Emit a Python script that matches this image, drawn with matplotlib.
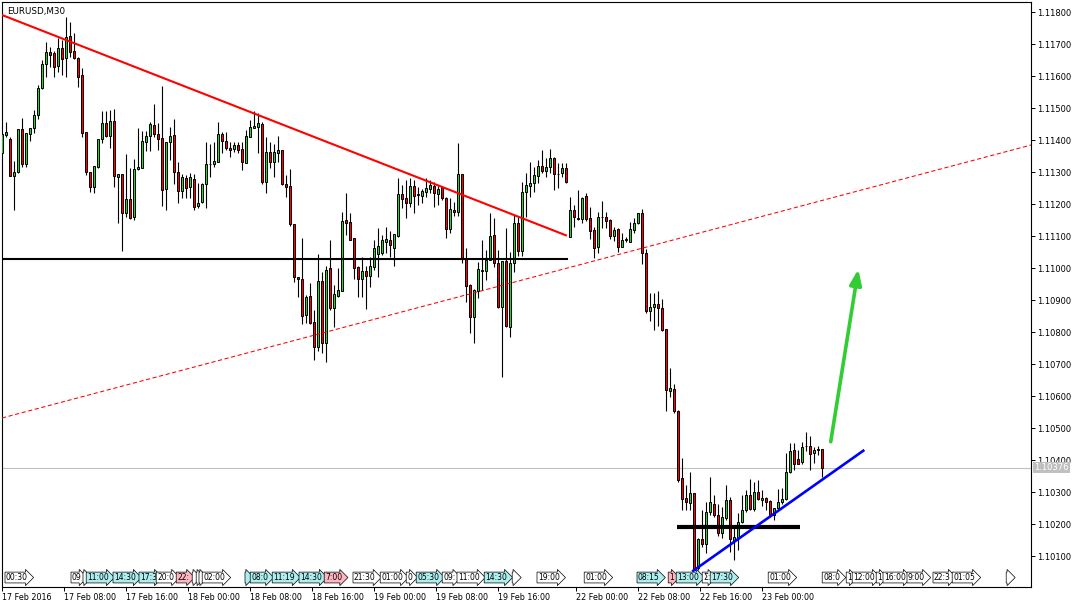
import matplotlib
matplotlib.use("Agg")
import matplotlib.pyplot as plt
import numpy as np

# EURUSD M30 candles (bar 0 = 17 Feb 2016 00:00)
opens = [1.11361, 1.11416, 1.11404, 1.11289, 1.11300, 1.11435, 1.11326, 1.11419, 1.11437, 1.11478,
         1.11562, 1.11639, 1.11677, 1.11672, 1.11633, 1.11687, 1.11656, 1.11726, 1.11680, 1.11656,
         1.11604, 1.11425, 1.11300, 1.11255, 1.11318, 1.11403, 1.11453, 1.11414, 1.11460, 1.11286,
         1.11294, 1.11174, 1.11217, 1.11161, 1.11309, 1.11314, 1.11394, 1.11414, 1.11448, 1.11419,
         1.11406, 1.11247, 1.11394, 1.11417, 1.11300, 1.11243, 1.11282, 1.11255, 1.11278, 1.11196,
         1.11208, 1.11262, 1.11325, 1.11325, 1.11333, 1.11420, 1.11399, 1.11375, 1.11372, 1.11384,
         1.11373, 1.11330, 1.11411, 1.11440, 1.11443, 1.11450, 1.11271, 1.11362, 1.11333, 1.11361,
         1.11370, 1.11265, 1.11257, 1.11138, 1.10974, 1.10966, 1.10854, 1.10913, 1.10831, 1.10755,
         1.10960, 1.10768, 1.11000, 1.10875, 1.10914, 1.10930, 1.11151, 1.11146, 1.11096, 1.11005,
         1.10966, 1.10992, 1.10977, 1.11005, 1.11045, 1.11049, 1.11081, 1.11088, 1.11062, 1.11101,
         1.11232, 1.11219, 1.11205, 1.11257, 1.11231, 1.11226, 1.11239, 1.11248, 1.11257, 1.11231,
         1.11253, 1.11219, 1.11122, 1.11182, 1.11175, 1.11295, 1.11031, 1.10948, 1.10847, 1.10930,
         1.10992, 1.10993, 1.11026, 1.11104, 1.11016, 1.10878, 1.11023, 1.10818, 1.11016, 1.11143,
         1.11055, 1.11240, 1.11258, 1.11266, 1.11290, 1.11320, 1.11305, 1.11316, 1.11344, 1.11295,
         1.11297, 1.11312, 1.11097, 1.11182, 1.11158, 1.11154, 1.11226, 1.11156, 1.11120, 1.11068,
         1.11159, 1.11159, 1.11151, 1.11102, 1.11122, 1.11068, 1.11089, 1.11083, 1.11120, 1.11141,
         1.11172, 1.11047, 1.10868, 1.10878, 1.10888, 1.10875, 1.10809, 1.10618, 1.10622, 1.10555,
         1.10344, 1.10283, 1.10268, 1.10297, 1.10062, 1.10153, 1.10138, 1.10237, 1.10265, 1.10229,
         1.10172, 1.10219, 1.10276, 1.10149, 1.10156, 1.10208, 1.10245, 1.10291, 1.10247, 1.10302,
         1.10276, 1.10281, 1.10273, 1.10229, 1.10250, 1.10269, 1.10278, 1.10364, 1.10432, 1.10403,
         1.10394, 1.10446, 1.10446, 1.10422, 1.10434, 1.10434]
highs = [1.11420, 1.11458, 1.11411, 1.11335, 1.11435, 1.11469, 1.11422, 1.11437, 1.11495, 1.11573,
         1.11651, 1.11708, 1.11692, 1.11680, 1.11719, 1.11713, 1.11786, 1.11770, 1.11734, 1.11661,
         1.11625, 1.11425, 1.11300, 1.11320, 1.11404, 1.11492, 1.11492, 1.11495, 1.11497, 1.11295,
         1.11294, 1.11357, 1.11312, 1.11341, 1.11439, 1.11429, 1.11429, 1.11458, 1.11513, 1.11453,
         1.11570, 1.11396, 1.11443, 1.11466, 1.11333, 1.11295, 1.11292, 1.11297, 1.11295, 1.11268,
         1.11268, 1.11394, 1.11390, 1.11394, 1.11457, 1.11427, 1.11427, 1.11395, 1.11395, 1.11395,
         1.11395, 1.11432, 1.11463, 1.11493, 1.11484, 1.11458, 1.11411, 1.11396, 1.11390, 1.11413,
         1.11370, 1.11292, 1.11309, 1.11138, 1.10974, 1.11094, 1.10917, 1.10953, 1.10870, 1.11044,
         1.10989, 1.11007, 1.11088, 1.10948, 1.11000, 1.11177, 1.11234, 1.11174, 1.11096, 1.11007,
         1.11034, 1.11007, 1.11036, 1.11088, 1.11125, 1.11104, 1.11130, 1.11117, 1.11106, 1.11281,
         1.11260, 1.11276, 1.11281, 1.11276, 1.11253, 1.11247, 1.11281, 1.11276, 1.11271, 1.11257,
         1.11257, 1.11224, 1.11219, 1.11208, 1.11391, 1.11295, 1.11062, 1.10951, 1.10934, 1.11021,
         1.11088, 1.11057, 1.11172, 1.11156, 1.11057, 1.11023, 1.11125, 1.11052, 1.11167, 1.11161,
         1.11271, 1.11297, 1.11333, 1.11318, 1.11338, 1.11370, 1.11344, 1.11372, 1.11349, 1.11328,
         1.11328, 1.11328, 1.11224, 1.11198, 1.11245, 1.11224, 1.11234, 1.11193, 1.11128, 1.11177,
         1.11210, 1.11177, 1.11153, 1.11128, 1.11125, 1.11111, 1.11099, 1.11146, 1.11156, 1.11172,
         1.11184, 1.11060, 1.10922, 1.10922, 1.10929, 1.10903, 1.10809, 1.10690, 1.10638, 1.10557,
         1.10406, 1.10323, 1.10364, 1.10297, 1.10156, 1.10245, 1.10271, 1.10349, 1.10291, 1.10265,
         1.10255, 1.10323, 1.10286, 1.10193, 1.10234, 1.10291, 1.10307, 1.10341, 1.10333, 1.10338,
         1.10307, 1.10284, 1.10276, 1.10250, 1.10309, 1.10312, 1.10422, 1.10455, 1.10455, 1.10432,
         1.10458, 1.10487, 1.10476, 1.10443, 1.10445, 1.10434]
lows = [1.11361, 1.11411, 1.11289, 1.11182, 1.11297, 1.11318, 1.11318, 1.11399, 1.11424, 1.11466,
        1.11559, 1.11597, 1.11628, 1.11599, 1.11614, 1.11604, 1.11599, 1.11660, 1.11653, 1.11568,
        1.11411, 1.11292, 1.11239, 1.11234, 1.11312, 1.11392, 1.11411, 1.11375, 1.11255, 1.11142,
        1.11055, 1.11161, 1.11154, 1.11151, 1.11306, 1.11314, 1.11366, 1.11367, 1.11411, 1.11370,
        1.11195, 1.11182, 1.11338, 1.11263, 1.11205, 1.11219, 1.11219, 1.11219, 1.11182, 1.11189,
        1.11205, 1.11189, 1.11286, 1.11318, 1.11333, 1.11361, 1.11370, 1.11349, 1.11364, 1.11359,
        1.11307, 1.11330, 1.11411, 1.11440, 1.11359, 1.11265, 1.11236, 1.11315, 1.11286, 1.11333,
        1.11260, 1.11222, 1.11132, 1.10958, 1.10909, 1.10826, 1.10828, 1.10826, 1.10713, 1.10743,
        1.10734, 1.10708, 1.10870, 1.10818, 1.10911, 1.10930, 1.11104, 1.11088, 1.10966, 1.10909,
        1.10909, 1.10872, 1.10943, 1.10995, 1.10972, 1.11042, 1.11047, 1.11036, 1.11007, 1.11097,
        1.11190, 1.11156, 1.11193, 1.11172, 1.11198, 1.11203, 1.11224, 1.11234, 1.11193, 1.11198,
        1.11214, 1.11094, 1.11109, 1.11163, 1.11163, 1.11016, 1.10896, 1.10797, 1.10768, 1.10906,
        1.10932, 1.10963, 1.11026, 1.11005, 1.10875, 1.10661, 1.10816, 1.10786, 1.10990, 1.11038,
        1.11038, 1.11161, 1.11224, 1.11240, 1.11266, 1.11297, 1.11284, 1.11297, 1.11245, 1.11250,
        1.11286, 1.11266, 1.11097, 1.11130, 1.11151, 1.11143, 1.11149, 1.11092, 1.11033, 1.11047,
        1.11125, 1.11125, 1.11091, 1.11086, 1.11052, 1.11066, 1.11083, 1.11083, 1.11109, 1.11138,
        1.11013, 1.10861, 1.10836, 1.10807, 1.10821, 1.10804, 1.10555, 1.10599, 1.10547, 1.10333,
        1.10245, 1.10245, 1.10245, 1.10057, 1.10057, 1.10130, 1.10109, 1.10229, 1.10224, 1.10163,
        1.10156, 1.10213, 1.10114, 1.10088, 1.10120, 1.10205, 1.10239, 1.10245, 1.10243, 1.10276,
        1.10257, 1.10245, 1.10224, 1.10213, 1.10245, 1.10265, 1.10276, 1.10361, 1.10370, 1.10388,
        1.10388, 1.10430, 1.10370, 1.10393, 1.10417, 1.10349]
closes = [1.11420, 1.11427, 1.11289, 1.11300, 1.11435, 1.11326, 1.11422, 1.11437, 1.11478, 1.11562,
          1.11637, 1.11677, 1.11667, 1.11630, 1.11687, 1.11653, 1.11724, 1.11677, 1.11656, 1.11599,
          1.11424, 1.11302, 1.11255, 1.11320, 1.11404, 1.11453, 1.11414, 1.11460, 1.11289, 1.11295,
          1.11174, 1.11217, 1.11158, 1.11310, 1.11317, 1.11398, 1.11413, 1.11451, 1.11419, 1.11403,
          1.11245, 1.11396, 1.11413, 1.11300, 1.11243, 1.11284, 1.11250, 1.11284, 1.11193, 1.11203,
          1.11265, 1.11325, 1.11326, 1.11335, 1.11420, 1.11399, 1.11377, 1.11370, 1.11384, 1.11370,
          1.11333, 1.11412, 1.11443, 1.11445, 1.11453, 1.11271, 1.11362, 1.11333, 1.11362, 1.11370,
          1.11265, 1.11253, 1.11140, 1.10972, 1.10966, 1.10852, 1.10911, 1.10830, 1.10755, 1.10960,
          1.10768, 1.10995, 1.10877, 1.10920, 1.10932, 1.11148, 1.11143, 1.11088, 1.11002, 1.10966,
          1.10992, 1.10977, 1.11007, 1.11062, 1.11070, 1.11088, 1.11092, 1.11073, 1.11106, 1.11232,
          1.11217, 1.11205, 1.11257, 1.11226, 1.11230, 1.11243, 1.11250, 1.11260, 1.11234, 1.11248,
          1.11219, 1.11122, 1.11184, 1.11175, 1.11295, 1.11031, 1.10945, 1.10847, 1.10932, 1.10997,
          1.10994, 1.11026, 1.11101, 1.11016, 1.10878, 1.11023, 1.10821, 1.11018, 1.11143, 1.11055,
          1.11240, 1.11260, 1.11268, 1.11292, 1.11320, 1.11305, 1.11316, 1.11344, 1.11295, 1.11294,
          1.11312, 1.11271, 1.11182, 1.11159, 1.11154, 1.11219, 1.11154, 1.11118, 1.11064, 1.11159,
          1.11160, 1.11149, 1.11102, 1.11120, 1.11068, 1.11088, 1.11092, 1.11122, 1.11141, 1.11172,
          1.11047, 1.10868, 1.10878, 1.10888, 1.10875, 1.10807, 1.10620, 1.10626, 1.10555, 1.10338,
          1.10279, 1.10271, 1.10297, 1.10057, 1.10153, 1.10138, 1.10239, 1.10269, 1.10229, 1.10172,
          1.10222, 1.10276, 1.10153, 1.10159, 1.10208, 1.10245, 1.10291, 1.10247, 1.10302, 1.10278,
          1.10283, 1.10271, 1.10229, 1.10250, 1.10271, 1.10279, 1.10364, 1.10430, 1.10390, 1.10390,
          1.10441, 1.10444, 1.10419, 1.10432, 1.10433, 1.10376]

# bar positions of the time axis labels
date_pos = [0, 15.5, 31, 46.5, 62, 77.5, 93, 108.5, 124, 143.5, 159, 174.5, 190]
date_labels = ["17 Feb 2016", "17 Feb 08:00", "17 Feb 16:00", "18 Feb 00:00", "18 Feb 08:00",
               "18 Feb 16:00", "19 Feb 00:00", "19 Feb 08:00", "19 Feb 16:00", "22 Feb 00:00",
               "22 Feb 08:00", "22 Feb 16:00", "23 Feb 00:00"]

# economic calendar markers along the bottom (bar position, text, importance colour)
event_pos = [0.9, 17.4, 20.4, 21.2, 27.9, 34.4, 38.7, 43.7, 47.7, 48.7, 49.4, 50.2, 60.9, 62.2,
             67.7, 74.4, 80.7, 87.9, 94.7, 101.2, 103.7, 110.2, 113.9, 120.7, 127.7, 133.9,
             145.7, 158.9, 166.7, 168.7, 175.2, 177.2, 191.7, 205.2, 211.2, 212.7, 218.7, 220.4,
             226.4, 232.9, 237.7, 251.2]
event_text = ["00:30", "09", " ", "11:00", "14:30", "17:3", "20:0", "22:", " ", " ", " ", "02:00",
              " ", "08:0", "11:19", "14:30", "7:00", "21:30", "01:00", "0", "05:30", "09:", "11:00",
              "14:30", " ", "19:00", "01:00", "08:15", "1", "13:00", "Σ:", "17:30", "01:00", "08:0",
              "1", "12:00", "1", "16:00", "9:00", "22:3", "01:05", " "]
event_kind = ["w", "w", "w", "c", "c", "c", "w", "p", "w", "w", "w", "w",
              "c", "c", "c", "c", "p", "w", "w", "w", "c", "w", "w",
              "c", "w", "w", "w", "c", "p", "c", "w", "c", "w", "w",
              "w", "w", "w", "w", "w", "w", "w", "w"]

# drawn objects (bar position, price)
trend_x = [-0.08, 140.9]
trend_y = [1.117916, 1.111031]
channel_x = [-0.08, 257.2]
channel_y = [1.105322, 1.113853]
level_x = [-0.08, 141.1]
level_y = 1.110306
support_x = [168.6, 199.4]
support_y = 1.101916
blue_x = [172.74, 215.24]
blue_y = [1.10055, 1.10430]
arrow_tail = (207.1, 1.10458)
arrow_tip = (214.0, 1.10997)
last_price = 1.10376

W, H = 1084, 608
fig = plt.figure(figsize=(W / 100, H / 100), dpi=100)
ax = fig.add_axes([2 / W, 21 / H, 1029 / W, 585 / H])
ax.set_xlim(-0.08, 257.17)
ax.set_ylim(1.100041, 1.118322)

o = np.array(opens)
c = np.array(closes)
hi = np.array(highs)
lo = np.array(lows)
x = np.arange(len(c))

colors = np.where(c > o, "#32CD32", np.where(c < o, "#FF0000", "black"))
ax.vlines(x, lo, hi, color="black", lw=0.8, zorder=3)
ax.bar(x, np.abs(c - o), bottom=np.minimum(o, c), width=0.55, color=colors,
       edgecolor="black", linewidth=0.7, zorder=4)

ax.axhline(last_price, color="#C0C0C0", lw=0.8, zorder=1)

ax.plot(trend_x, trend_y, color="red", lw=1.5, zorder=5)
ax.plot(channel_x, channel_y, color="red", lw=0.75, ls=(0, (4, 2.5)), zorder=5)
ax.plot(level_x, [level_y, level_y], color="black", lw=1.5, zorder=5)
ax.plot(support_x, [support_y, support_y], color="black", lw=3, solid_capstyle="butt", zorder=5)
ax.plot(blue_x, blue_y, color="#0000FF", lw=1.9, zorder=5)
ax.annotate("", xy=arrow_tip, xytext=arrow_tail, zorder=6,
            arrowprops=dict(arrowstyle="-|>,head_length=0.9,head_width=0.35", lw=2.6,
                            color="#32CD32", shrinkA=0, shrinkB=0))

# calendar markers
fills = {"w": "white", "c": "#AFEEEE", "p": "#FFB6C1"}
tr = ax.get_xaxis_transform()
for i, (p, t, k) in enumerate(zip(event_pos, event_text, event_kind)):
    ax.text(p, 0.0162, t, transform=tr, fontsize=5.5, ha="left", va="center", zorder=7 + i * 0.01,
            clip_on=True,
            bbox=dict(boxstyle="rarrow,pad=0.12", fc=fills[k], ec="black", lw=0.5))

ax.text(0.0045, 0.992, "EURUSD,M30", transform=ax.transAxes, fontsize=6.3, ha="left", va="top")

# right price scale
ax.yaxis.tick_right()
ax.set_yticks(np.arange(1.101, 1.11801, 0.001))
ax.yaxis.set_major_formatter(matplotlib.ticker.FormatStrFormatter("%.5f"))
ax.tick_params(axis="y", direction="out", length=3, width=0.7, pad=1.5, labelsize=6)
ax.annotate(f"{last_price:.5f}", xy=(1, last_price), xycoords=ax.get_yaxis_transform(),
            xytext=(2.2, 0), textcoords="offset points", fontsize=6, color="white",
            ha="left", va="center",
            bbox=dict(boxstyle="square,pad=0.12", fc="#C0C0C0", ec="none"))

# time scale
ax.set_xticks(date_pos)
ax.set_xticklabels(date_labels, ha="left")
ax.tick_params(axis="x", direction="out", length=3, width=0.7, pad=1.5, labelsize=5.8)

for s in ax.spines.values():
    s.set_linewidth(0.8)
    s.set_color("black")

fig.savefig("out.png", dpi=100)
